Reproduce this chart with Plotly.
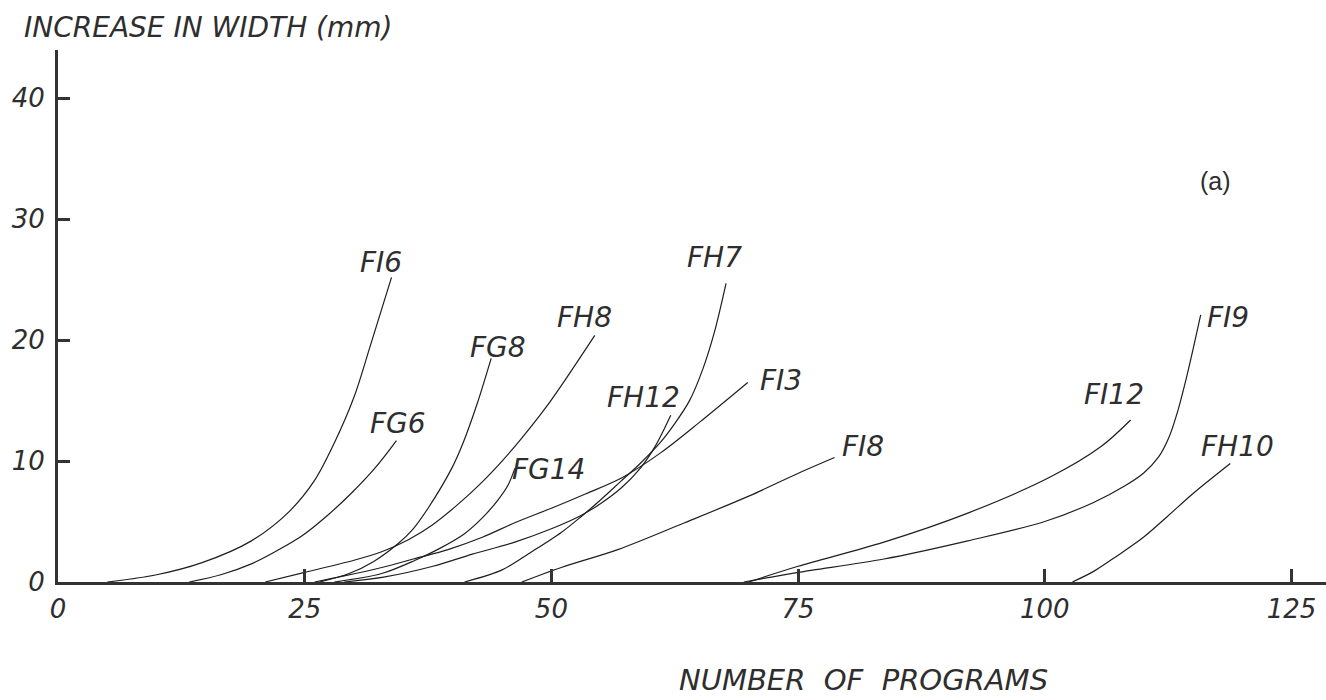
import plotly.graph_objects as go

# ---- data ----
fi6_x = [5, 10, 14.6, 19.6, 23.4, 26, 28, 30, 31.6, 33.8]
fi6_y = [0, 0.6, 1.6, 3.4, 5.8, 8.4, 11.5, 15.3, 19.4, 25.2]

fg6_x = [13.3, 16.5, 19.6, 22, 24.7, 27.3, 29.8, 32.2, 34.3]
fg6_y = [0, 0.6, 1.5, 2.5, 3.8, 5.5, 7.4, 9.5, 11.7]

fg8_x = [26.5, 29.5, 32, 34.5, 36, 37.5, 39.9, 41.1, 42.5, 43.9]
fg8_y = [0, 0.7, 1.7, 3.2, 4.4, 6.1, 9.4, 11.6, 14.8, 18.5]

fh8_x = [21, 25, 30, 32.8, 35.5, 37.9, 40.5, 42.9, 45, 47, 49.5, 51.3, 54.4]
fh8_y = [0, 0.8, 1.8, 2.5, 3.5, 4.7, 6.4, 8.2, 10.0, 11.9, 14.5, 16.6, 20.4]

fg14_x = [28, 32.8, 36.2, 38.5, 41.2, 43, 44.6, 45.6, 46.3]
fg14_y = [0, 0.7, 1.8, 2.7, 4.0, 5.3, 6.8, 8.0, 9.4]

fi3_x = [26, 29, 32.8, 36, 39.6, 43, 46.3, 50, 53.5, 57.1, 61.1, 65, 69.9]
fi3_y = [0, 0.5, 1.2, 1.9, 2.7, 3.7, 4.9, 6.1, 7.3, 8.6, 10.7, 13.2, 16.5]

fh12_x = [29, 33, 38, 42, 46.3, 50, 53, 55, 57.1, 59, 60.5, 62.1]
fh12_y = [0, 0.4, 1.3, 2.3, 3.3, 4.4, 5.5, 6.5, 7.8, 9.4, 11.2, 13.8]

fh7_x = [41.2, 45, 48, 51, 53, 55, 57, 59, 61, 62.5, 64, 65.3, 66.5, 67.7]
fh7_y = [0, 1.0, 2.5, 4.1, 5.4, 6.8, 8.3, 9.8, 11.5, 13.1, 15.0, 17.5, 20.6, 24.7]

fi8_x = [47, 51, 56.8, 63.5, 70, 75.3, 78.7]
fi8_y = [0, 1.2, 2.7, 4.9, 7.1, 9.1, 10.3]

fi12_x = [70, 75, 83.7, 92.2, 100.6, 105.7, 108.7]
fi12_y = [0, 1.3, 3.3, 5.7, 8.7, 11.2, 13.4]

fi9_x = [69.5, 75, 83.7, 92.2, 100, 105, 108, 110, 111.5, 112.6, 113.5, 114.3, 115.1, 115.8]
fi9_y = [0, 0.8, 1.9, 3.4, 5.0, 6.6, 7.9, 9.0, 10.3, 12.0, 14.2, 16.7, 19.5, 22.1]

fh10_x = [102.8, 105, 107.4, 110, 112.4, 115, 118.8]
fh10_y = [0, 0.9, 2.2, 3.7, 5.4, 7.3, 9.8]

series = [
    ("FI6", fi6_x, fi6_y), ("FG6", fg6_x, fg6_y), ("FG8", fg8_x, fg8_y),
    ("FH8", fh8_x, fh8_y), ("FG14", fg14_x, fg14_y), ("FI3", fi3_x, fi3_y),
    ("FH12", fh12_x, fh12_y), ("FH7", fh7_x, fh7_y), ("FI8", fi8_x, fi8_y),
    ("FI12", fi12_x, fi12_y), ("FI9", fi9_x, fi9_y), ("FH10", fh10_x, fh10_y),
]

# label positions (data coordinates)
label_names = ["FI6", "FG6", "FG8", "FH8", "FG14", "FI3", "FH12", "FH7", "FI8", "FI12", "FI9", "FH10"]
label_x = [32.7, 34.5, 44.6, 53.4, 49.7, 73.3, 59.3, 66.5, 81.6, 107.0, 118.6, 119.5]
label_y = [26.4, 13.1, 19.4, 21.9, 9.3, 16.7, 15.3, 26.8, 11.2, 15.5, 21.9, 11.2]

x_ticks = [0, 25, 50, 75, 100, 125]
y_ticks = [0, 10, 20, 30, 40]

FONT = "DejaVu Sans"
INK = "#2e2e2e"

fig = go.Figure()
for name, xs, ys in series:
    fig.add_trace(go.Scatter(
        x=xs, y=ys, mode="lines", name=name,
        line=dict(color="#1e1e1e", width=1.2, shape="spline", smoothing=0.9),
        showlegend=False, hoverinfo="skip",
    ))

for name, lx, ly in zip(label_names, label_x, label_y):
    fig.add_annotation(x=lx, y=ly, text=name, showarrow=False,
                       xanchor="center", yanchor="middle",
                       font=dict(family=FONT, size=28, color=INK, style="italic"))

fig.add_annotation(x=117.3, y=33.2, text="(a)", showarrow=False,
                   xanchor="center", yanchor="middle",
                   font=dict(family="Liberation Sans", size=25, color=INK))

# axis titles as paper annotations
fig.add_annotation(xref="paper", yref="paper", x=-0.0284, y=1.0432,
                   text="INCREASE IN WIDTH (mm)", showarrow=False,
                   xanchor="left", yanchor="middle",
                   font=dict(family=FONT, size=28, color=INK, style="italic"))
fig.add_annotation(xref="paper", yref="paper", x=0.6356, y=-0.2200,
                   text="NUMBER  OF  PROGRAMS", showarrow=False,
                   xanchor="center", yanchor="bottom",
                   font=dict(family=FONT, size=29, color=INK, style="italic"))

fig.update_xaxes(
    range=[0, 128.5], tickvals=x_ticks, ticktext=[str(v) for v in x_ticks],
    showgrid=False, zeroline=False, showline=True, linecolor="#333", linewidth=3,
    ticks="inside", ticklen=13, tickwidth=3, tickcolor="#333",
    tickfont=dict(family=FONT, size=26, color=INK, style="italic"),
    ticklabelstandoff=2, automargin=False,
)
fig.update_yaxes(
    range=[0, 44], tickvals=y_ticks, ticktext=[str(v) for v in y_ticks],
    showgrid=False, zeroline=False, showline=True, linecolor="#333", linewidth=3,
    ticks="inside", ticklen=12, tickwidth=3, tickcolor="#333",
    tickfont=dict(family=FONT, size=26, color=INK, style="italic"),
    ticklabelstandoff=5, automargin=False,
)

fig.update_layout(
    width=1326, height=700,
    margin=dict(l=58, r=0, t=50, b=118, autoexpand=False),
    plot_bgcolor="white", paper_bgcolor="white",
)

fig.write_html(
    "out.html",
    config={"displayModeBar": False},
    post_script="document.body.style.margin='0';document.body.style.overflow='hidden';",
)
